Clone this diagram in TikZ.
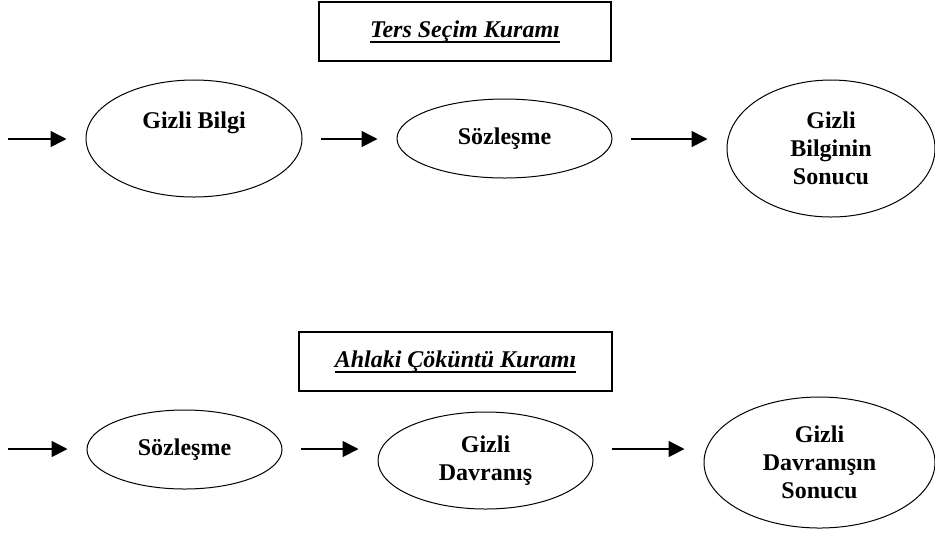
\documentclass[tikz,border=0pt]{standalone}
\usepackage{fontspec}
\setmainfont{Liberation Serif}
\usepackage{tikz}
\usetikzlibrary{arrows.meta,positioning,shapes.geometric}
\newcommand{\titleline}[1]{\setbox0\hbox{#1}\rlap{\rule[-2.8pt]{\wd0}{1pt}}\box0}

\begin{document}
\begin{tikzpicture}[x=0.5pt,y=-0.5pt,
    oval/.style={draw, ellipse, line width=0.5pt, inner sep=0pt, align=center, font=\fontsize{12}{14}\selectfont\bfseries},
    titlebox/.style={draw, line width=0.6pt, minimum height=29.5pt, font=\fontsize{12}{14}\selectfont\bfseries\itshape},
    flow/.style={-{Triangle[length=8pt,width=8pt]}, line width=0.8pt, shorten <=9pt, shorten >=9.5pt}]
    \useasboundingbox (0,0) rectangle (935,532);
    % upper chain
    \node[titlebox, minimum width=146pt] (tsk) at (465,31.5) {\titleline{Ters Seçim Kuramı}};
    \node[oval, minimum width=108pt, minimum height=58.5pt,
      label={[font=\fontsize{12}{14}\selectfont\bfseries, yshift=8pt]center:Gizli Bilgi}] (gb) at (194,138.5) {};
    \node[oval, minimum width=107.5pt, minimum height=39.5pt] (sz) at (504.5,138.5) {Sözleşme};
    \node[oval, minimum width=104pt, minimum height=68.5pt] (gbs) at (831,148.5) {Gizli\\Bilginin\\Sonucu};
    \coordinate (in1) at (8,139);
    \draw[flow, shorten <=0pt] (in1) -- (in1 -| gb.west);
    \foreach \a/\b in {gb/sz,sz/gbs} {
      \draw[flow] (\a.east |- in1) -- (\b.west |- in1);
    }
    % lower chain
    \node[titlebox, minimum width=156.5pt] (ack) at (455.5,361.5) {\titleline{Ahlaki Çöküntü Kuramı}};
    \node[oval, minimum width=97.5pt, minimum height=39.5pt] (sz2) at (184.5,449.5) {Sözleşme};
    \node[oval, minimum width=107.5pt, minimum height=48.5pt] (gd) at (485.5,460.5) {Gizli\\Davranış};
    \node[oval, minimum width=115.5pt, minimum height=65.5pt] (gds) at (819.5,462.5) {Gizli\\Davranışın\\Sonucu};
    \coordinate (in2) at (8,449);
    \draw[flow, shorten <=0pt] (in2) -- (in2 -| sz2.west);
    \foreach \a/\b in {sz2/gd,gd/gds} {
      \draw[flow] (\a.east |- in2) -- (\b.west |- in2);
    }
\end{tikzpicture}
\end{document}
